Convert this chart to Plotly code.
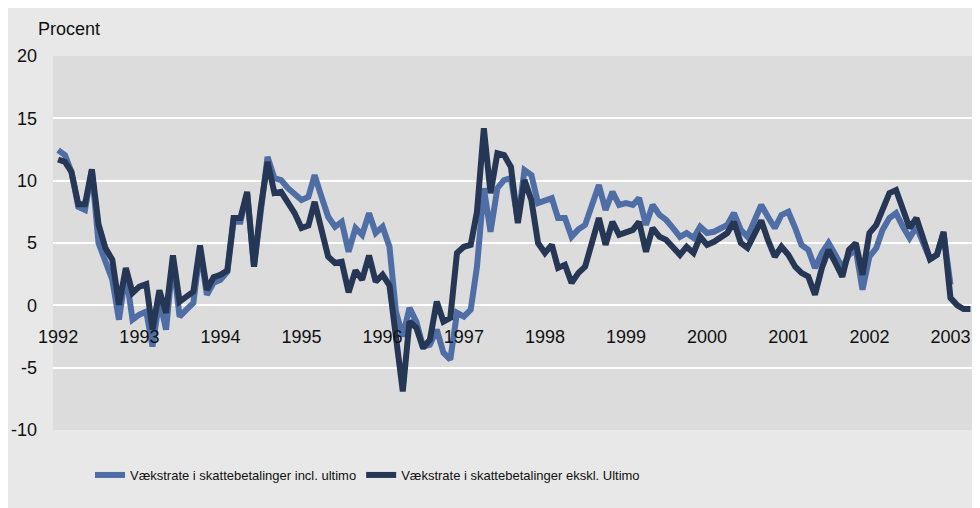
import pandas as pd
import plotly.graph_objects as go

# ---- data (monthly, Jan 1992 onwards) ----
start_month = "1992-01-01"
incl_ultimo = [12.45, 12.05, 10.7, 7.9, 7.65, 10.85, 5.0, 3.65, 2.05, -1.15, 2.6, -1.15,
               -0.75, -0.5, -3.3, 0.45, -1.95, 3.65, -0.9, -0.35, 0.2, 4.45, 0.85, 1.8,
               2.05, 2.7, 6.7, 6.7, 9.0, 3.1, 7.8, 11.9, 10.2, 10.05, 9.4, 9.0,
               8.45, 8.7, 10.45, 8.7, 7.1, 6.3, 6.7, 4.3, 6.2, 5.65, 7.4, 5.8,
               6.3, 4.7, -0.5, -2.5, -0.2, -1.3, -3.3, -3.15, -1.95, -3.8, -4.35, -0.6,
               -0.9, -0.35, 3.1, 9.4, 5.9, 9.4, 10.05, 10.2, 6.8, 10.85, 10.45, 8.2,
               8.45, 8.6, 7.0, 7.0, 5.5, 6.1, 6.45, 7.9, 9.65, 7.65, 9.1, 8.05,
               8.2, 8.05, 8.6, 6.45, 8.05, 7.25, 6.85, 6.2, 5.5, 5.8, 5.4, 6.3,
               5.8, 5.9, 6.2, 6.45, 7.4, 6.05, 5.5, 6.85, 8.05, 7.1, 6.2, 7.25,
               7.5, 6.2, 4.85, 4.45, 3.0, 4.2, 5.0, 4.05, 3.0, 4.05, 4.45, 1.25,
               3.9, 4.6, 6.05, 7.0, 7.4, 6.3, 5.4, 6.3, 5.0, 3.7, 4.05, 5.8,
               1.65]
ekskl_ultimo = [11.7, 11.5, 10.7, 8.1, 8.1, 10.9, 6.5, 4.6, 3.65, 0.05, 3.0, 1.0,
                1.5, 1.7, -1.95, 1.2, -0.6, 4.0, 0.3, 0.7, 1.1, 4.8, 1.25, 2.25,
                2.45, 2.8, 7.0, 7.0, 9.1, 3.1, 7.8, 11.5, 9.0, 9.1, 8.3, 7.4,
                6.2, 6.4, 8.3, 5.8, 3.9, 3.4, 3.5, 1.05, 2.8, 2.05, 4.0, 1.9,
                2.45, 1.6, -3.0, -6.9, -1.3, -1.8, -3.4, -2.75, 0.3, -1.3, -1.0, 4.2,
                4.7, 4.85, 7.5, 14.2, 9.0, 12.2, 12.05, 11.1, 6.6, 10.05, 8.45, 5.0,
                4.2, 4.85, 3.0, 3.25, 1.8, 2.6, 3.1, 5.25, 7.0, 4.85, 6.7, 5.65,
                5.8, 6.05, 6.7, 4.3, 6.2, 5.5, 5.25, 4.7, 4.05, 4.7, 4.2, 5.5,
                4.85, 5.1, 5.5, 5.8, 6.7, 5.0, 4.6, 5.65, 6.8, 5.25, 3.9, 4.7,
                4.05, 3.1, 2.6, 2.3, 0.85, 3.0, 4.45, 3.4, 2.3, 4.45, 5.0, 2.45,
                5.8, 6.45, 7.65, 9.0, 9.25, 7.8, 6.2, 7.0, 5.25, 3.7, 4.05, 5.9,
                0.6, 0.0, -0.3, -0.3]
y_tickvals = [-10, -5, 0, 5, 10, 15, 20]
y_ticktext = ["-10", "-5", "0", "5", "10", "15", "20"]
series_names = ["Vækstrate i skattebetalinger incl. ultimo",
                "Vækstrate i skattebetalinger ekskl. Ultimo"]

months_incl = pd.date_range(start_month, periods=len(incl_ultimo), freq="MS")
months_ekskl = pd.date_range(start_month, periods=len(ekskl_ultimo), freq="MS")

FONT = "Liberation Sans, Arial, sans-serif"
BLUE = "#4f6ea6"
DARK = "#263756"
TXT = "#111111"

fig = go.Figure()
fig.add_trace(go.Scatter(x=months_incl, y=incl_ultimo, mode="lines", name=series_names[0],
                         line=dict(color=BLUE, width=6)))
fig.add_trace(go.Scatter(x=months_ekskl, y=ekskl_ultimo, mode="lines", name=series_names[1],
                         line=dict(color=DARK, width=6)))

# figure coordinates (page has an 8px body margin)
W, H = 972, 500
L, R, T, B = 45, 0, 48, 78
pw, ph = W - L - R, H - T - B
OFF = 8

def px_x(xw):  # window px -> paper fraction
    return (xw - OFF - L) / pw

def px_y(yw):
    return (H - B - (yw - OFF)) / ph

fig.update_layout(
    width=W, height=H,
    margin=dict(l=L, r=R, t=T, b=B),
    paper_bgcolor="#e8e8e8",
    plot_bgcolor="#dcdcdc",
    font=dict(family=FONT, color=TXT),
    showlegend=True,
    legend=dict(orientation="h", x=px_x(90), xanchor="left", y=px_y(475), yanchor="middle",
                bgcolor="rgba(0,0,0,0)", font=dict(size=13, family=FONT, color=TXT),
                tracegroupgap=0),
    xaxis=dict(type="date", range=["1991-12-09", "2003-05-14"], tick0="1992-01-01", dtick="M12",
               tickformat="%Y", anchor="free", position=1/3, showgrid=False, zeroline=False,
               showline=False, ticks="", tickfont=dict(size=18, family=FONT, color=TXT),
               ticklabelstandoff=19),
    yaxis=dict(range=[-10, 20], tickvals=y_tickvals, ticktext=y_ticktext, showgrid=True,
               gridcolor="#ffffff", gridwidth=1.8, zeroline=True, zerolinecolor="#ffffff",
               zerolinewidth=1.8, showline=False, ticks="", tickfont=dict(size=18, family=FONT, color=TXT),
               ticklabelstandoff=15),
    annotations=[dict(text="Procent", xref="paper", yref="paper", x=px_x(36), y=px_y(29),
                      xanchor="left", yanchor="middle", showarrow=False,
                      font=dict(size=18, family=FONT, color=TXT))],
)

fig.write_html("out.html",
               post_script="document.documentElement.style.overflow='hidden';"
                           "document.body.style.overflow='hidden';")
